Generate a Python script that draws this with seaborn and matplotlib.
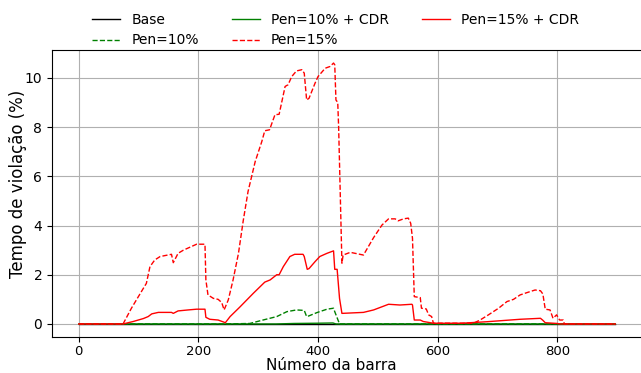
import numpy as np
import pandas as pd
import matplotlib
matplotlib.use('Agg')
import matplotlib.pyplot as plt
import seaborn as sns

# --- Data (bar number vs violation time %) ---
base_x = [0, 897]
base_y = [0, 0]

pen10_x = [0, 245, 286, 308, 331, 348, 364, 377, 381, 385, 398, 415, 426, 428, 436, 897]
pen10_y = [0, 0, 0.02, 0.16, 0.30, 0.50, 0.57, 0.55, 0.30, 0.33, 0.46, 0.60, 0.64, 0.50, 0.0, 0]

pen10cdr_x = [0, 330, 360, 400, 425, 430, 897]
pen10cdr_y = [0, 0, 0.02, 0.03, 0.04, 0, 0]

pen15_x = [0, 74, 88, 108, 113, 119, 127, 136, 155, 158, 166, 175, 186, 197, 211,
           212.5, 216, 225, 233, 239, 243, 250, 258, 267, 275, 283, 295, 306, 311,
           319, 328, 335, 345, 350, 356, 364, 373, 377, 381, 385, 395, 400, 412, 420,
           426, 428, 430, 433, 434.5, 437, 440, 442, 454, 476, 493, 507, 518, 529,
           534, 543, 551, 555, 558, 561, 571, 573, 581, 585, 590, 593, 626, 660, 671,
           685, 702, 716, 727, 738, 749, 763, 772, 776, 780, 788, 793, 799, 804, 810,
           812, 897]
pen15_y = [0, 0, 0.64, 1.45, 1.65, 2.33, 2.60, 2.74, 2.83, 2.49, 2.87, 3.00, 3.12, 3.24, 3.24,
           1.79, 1.18, 1.04, 1.00, 0.87, 0.57, 0.98, 1.79, 2.87, 4.20, 5.38, 6.60, 7.41, 7.85,
           7.89, 8.50, 8.52, 9.65, 9.72, 10.05, 10.28, 10.33, 10.19, 9.10, 9.17, 9.78, 10.05, 10.39, 10.46,
           10.60, 10.53, 9.10, 9.00, 8.00, 5.50, 2.47, 2.80, 2.91, 2.80, 3.51, 4.02, 4.27, 4.27,
           4.19, 4.27, 4.30, 4.09, 3.48, 1.11, 1.07, 0.64, 0.61, 0.37, 0.30, 0.03, 0.03, 0.03, 0.16,
           0.37, 0.64, 0.91, 1.00, 1.18, 1.27, 1.38, 1.35, 1.22, 0.60, 0.57, 0.23, 0.37, 0.16, 0.16,
           0, 0]

pen15cdr_x = [0, 74, 91, 108, 116, 122, 133, 155, 158, 166, 183, 197, 211, 212.5, 219, 233,
              242, 245, 253, 269, 292, 311, 320, 331, 335, 342, 353, 361, 375, 377, 382, 385,
              395, 403, 415, 426, 428, 432, 436, 440, 476, 493, 518, 537, 557, 558, 561, 571,
              576, 593, 640, 682, 738, 772, 776, 780, 800, 804, 897]
pen15cdr_y = [0, 0, 0.10, 0.22, 0.30, 0.41, 0.47, 0.47, 0.43, 0.53, 0.57, 0.60, 0.60, 0.27, 0.19, 0.16,
              0.08, 0.05, 0.30, 0.68, 1.25, 1.70, 1.79, 2.00, 2.00, 2.33, 2.74, 2.83, 2.83, 2.74, 2.22, 2.25,
              2.53, 2.74, 2.87, 2.97, 2.22, 2.22, 1.04, 0.43, 0.47, 0.57, 0.80, 0.77, 0.80, 0.77, 0.16, 0.16,
              0.10, 0.03, 0.03, 0.09, 0.19, 0.23, 0.15, 0.05, 0.02, 0, 0]

# --- Plot ---
fig = plt.figure(figsize=(6.41, 3.73), dpi=100)
ax = fig.add_axes([0.0811, 0.0965, 0.9205, 0.7694])

sns.lineplot(x=base_x, y=base_y, ax=ax, color='black', linewidth=1.0, label='Base')
sns.lineplot(x=pen10_x, y=pen10_y, ax=ax, color='green', linewidth=1.0, linestyle='--', label='Pen=10%')
sns.lineplot(x=pen10cdr_x, y=pen10cdr_y, ax=ax, color='green', linewidth=1.0, label='Pen=10% + CDR')
sns.lineplot(x=pen15_x, y=pen15_y, ax=ax, color='red', linewidth=1.0, linestyle='--', label='Pen=15%')
sns.lineplot(x=pen15cdr_x, y=pen15cdr_y, ax=ax, color='red', linewidth=1.0, label='Pen=15% + CDR')

ax.set_xlabel('Número da barra', fontsize=11, va='bottom')
ax.set_ylabel('Tempo de violação (%)', fontsize=12, va='center')
ax.xaxis.set_label_coords(0.474, -0.124)
ax.yaxis.set_label_coords(-0.058, 0.533)
ax.set_xticks([0, 200, 400, 600, 800])
ax.set_yticks([0, 2, 4, 6, 8, 10])
ax.tick_params(labelsize=10)
ax.tick_params(axis='x', labelsize=9.5, pad=2)
ax.grid(True)

handles, labels = ax.get_legend_handles_labels()
ax.get_legend().remove()
fig.legend(handles, labels, loc='upper center', bbox_to_anchor=(0.524, 1.0), ncol=3,
           frameon=False, fontsize=10, handlelength=2.0, columnspacing=2.4, labelspacing=0.5)

plt.savefig('out.png', dpi=100)
